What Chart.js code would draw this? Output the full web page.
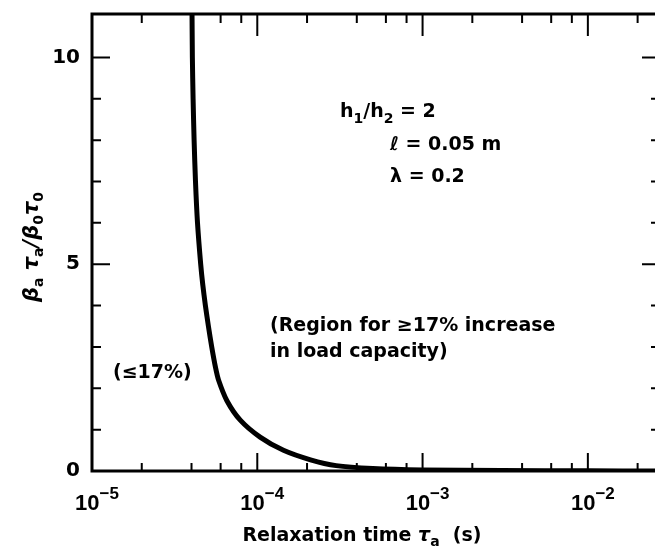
<!DOCTYPE html>
<html>
<head>
<meta charset="utf-8">
<script src="https://cdn.jsdelivr.net/npm/chart.js@4.4.1/dist/chart.umd.min.js"></script>
<style>
  html, body { margin: 0; padding: 0; background: #fff; overflow: hidden; }
  #wrap { width: 670px; height: 554px; }
</style>
</head>
<body>
<div id="wrap"><canvas id="chart" width="670" height="554"></canvas></div>
<script>
// curve: relaxation time (s) vs beta_a tau_a / beta_0 tau_0
var relaxationTimes = [4.025e-5, 4.048e-5, 4.089e-5, 4.147e-5, 4.228e-5, 4.348e-5, 4.546e-5, 4.681e-5, 4.854e-5, 5.062e-5, 5.30e-5, 5.589e-5, 5.828e-5, 6.55e-5, 7.89e-5, 1.04e-4, 1.44e-4, 2.1e-4, 3.0e-4, 5.0e-4, 1.0e-3, 3.0e-3, 1.0e-2, 2.6e-2];
var ratioValues = [11.3, 10.0, 9.0, 8.0, 7.0, 6.0, 5.0, 4.5, 4.0, 3.5, 3.0, 2.5, 2.2, 1.7, 1.23, 0.82, 0.5, 0.27, 0.13, 0.06, 0.025, 0.01, 0.004, 0.002];

var xDecades = [1e-5, 1e-4, 1e-3, 1e-2];
var xDecadeExponents = ["\u22125", "\u22124", "\u22123", "\u22122"];
var xMinorMultipliers = [2, 4, 6, 8];
var yLabelValues = [0, 5, 10];
var yMinorValues = [1, 2, 3, 4, 6, 7, 8, 9];

var LIB = "'Liberation Sans', Arial, sans-serif";
var DJV = "'DejaVu Sans', sans-serif";

function drawRuns(ctx, x, y, runs, align) {
  var total = 0;
  runs.forEach(function (r) {
    ctx.font = r.f;
    r.w = ctx.measureText(r.t).width;
    total += r.w;
  });
  var cx = align === "center" ? x - total / 2 : x;
  ctx.textAlign = "left";
  ctx.textBaseline = "alphabetic";
  runs.forEach(function (r) {
    ctx.font = r.f;
    ctx.fillText(r.t, cx, y + (r.dy || 0));
    cx += r.w;
  });
}

var B = "bold 19px " + DJV;
var BS = "bold 14px " + DJV;
var BI = "italic bold 19px " + DJV;

var framePlugin = {
  id: "frame",
  afterDatasetsDraw: function (chart) {
    var ctx = chart.ctx;
    var a = chart.chartArea;
    var xs = chart.scales.x;
    var ys = chart.scales.y;
    ctx.save();
    ctx.strokeStyle = "#000";
    ctx.fillStyle = "#000";

    // frame
    ctx.lineWidth = 3;
    ctx.strokeRect(a.left, a.top, a.right - a.left, a.bottom - a.top);

    // x ticks, pointing inwards on bottom and top
    ctx.lineWidth = 2;
    ctx.beginPath();
    xDecades.forEach(function (d) {
      var px = xs.getPixelForValue(d);
      ctx.moveTo(px, a.bottom); ctx.lineTo(px, a.bottom - 18);
      ctx.moveTo(px, a.top); ctx.lineTo(px, a.top + 22);
      xMinorMultipliers.forEach(function (m) {
        var v = d * m;
        if (v > xs.max) return;
        var p = xs.getPixelForValue(v);
        ctx.moveTo(p, a.bottom); ctx.lineTo(p, a.bottom - 8);
        ctx.moveTo(p, a.top); ctx.lineTo(p, a.top + 9);
      });
    });
    // y ticks
    yLabelValues.forEach(function (v) {
      var py = ys.getPixelForValue(v);
      ctx.moveTo(a.left, py); ctx.lineTo(a.left + 18, py);
      ctx.moveTo(a.right, py); ctx.lineTo(a.right - 15, py);
    });
    yMinorValues.forEach(function (v) {
      var py = ys.getPixelForValue(v);
      ctx.moveTo(a.left, py); ctx.lineTo(a.left + 9, py);
      ctx.moveTo(a.right, py); ctx.lineTo(a.right - 6, py);
    });
    ctx.stroke();

    // x tick labels 10^n
    xDecades.forEach(function (d, i) {
      var px = xs.getPixelForValue(d);
      drawRuns(ctx, px + 5, a.bottom + 39, [
        { t: "10", f: "bold 22px " + LIB },
        { t: xDecadeExponents[i], f: "bold 17px " + LIB, dy: -11 }
      ], "center");
    });

    // x title
    drawRuns(ctx, 362, 541, [
      { t: "Relaxation time ", f: B },
      { t: "\u03c4", f: BI },
      { t: "a", f: BS, dy: 5 },
      { t: "  (s)", f: B }
    ], "center");

    // y title, rotated
    ctx.save();
    ctx.translate(38, 247);
    ctx.rotate(-Math.PI / 2);
    var GI = "italic bold 21px " + DJV;
    var GS = "bold 14px " + DJV;
    drawRuns(ctx, 0, 0, [
      { t: "\u03b2", f: GI },
      { t: "a", f: GS, dy: 5 },
      { t: " \u03c4", f: GI },
      { t: "a", f: GS, dy: 5 },
      { t: "/\u03b2", f: GI },
      { t: "0", f: GS, dy: 5 },
      { t: "\u03c4", f: GI },
      { t: "0", f: GS, dy: 5 }
    ], "center");
    ctx.restore();

    // annotations
    drawRuns(ctx, 340, 117, [
      { t: "h", f: B }, { t: "1", f: BS, dy: 6 },
      { t: "/h", f: B }, { t: "2", f: BS, dy: 6 },
      { t: " = 2", f: B }
    ]);
    drawRuns(ctx, 390, 150, [{ t: "\u2113 = 0.05 m", f: B }]);
    drawRuns(ctx, 390, 182, [{ t: "\u03bb = 0.2", f: B }]);
    drawRuns(ctx, 270, 331, [{ t: "(Region for \u226517% increase", f: B }]);
    drawRuns(ctx, 270, 357, [{ t: "in load capacity)", f: B }]);
    drawRuns(ctx, 113, 378, [{ t: "(\u226417%)", f: B }]);

    ctx.restore();
  }
};

var points = relaxationTimes.map(function (t, i) {
  return { x: t, y: ratioValues[i] };
});

new Chart(document.getElementById("chart"), {
  type: "line",
  data: {
    datasets: [
      {
        data: points,
        borderColor: "#000",
        borderWidth: 5,
        pointRadius: 0,
        tension: 0.25,
        fill: false
      }
    ]
  },
  options: {
    responsive: false,
    animation: false,
    devicePixelRatio: 1,
    layout: { padding: { top: 14, right: 13, left: 0, bottom: 0 } },
    plugins: { legend: { display: false }, tooltip: { enabled: false } },
    scales: {
      x: {
        type: "logarithmic",
        min: 1e-5,
        max: 0.0262,
        grid: { display: false },
        border: { display: false },
        ticks: { display: false },
        afterFit: function (s) { s.height = 83; }
      },
      y: {
        type: "linear",
        min: 0,
        max: 11.05,
        grid: { display: false, drawTicks: false },
        border: { display: false },
        afterBuildTicks: function (s) {
          s.ticks = yLabelValues.map(function (v) { return { value: v }; });
        },
        ticks: {
          color: "#000",
          padding: 12,
          font: { family: DJV, size: 20, weight: "bold" }
        },
        afterFit: function (s) {
          s.width = 92;
          s.paddingTop = 0;
          s.paddingBottom = 0;
        }
      }
    }
  },
  plugins: [framePlugin]
});
</script>
</body>
</html>
